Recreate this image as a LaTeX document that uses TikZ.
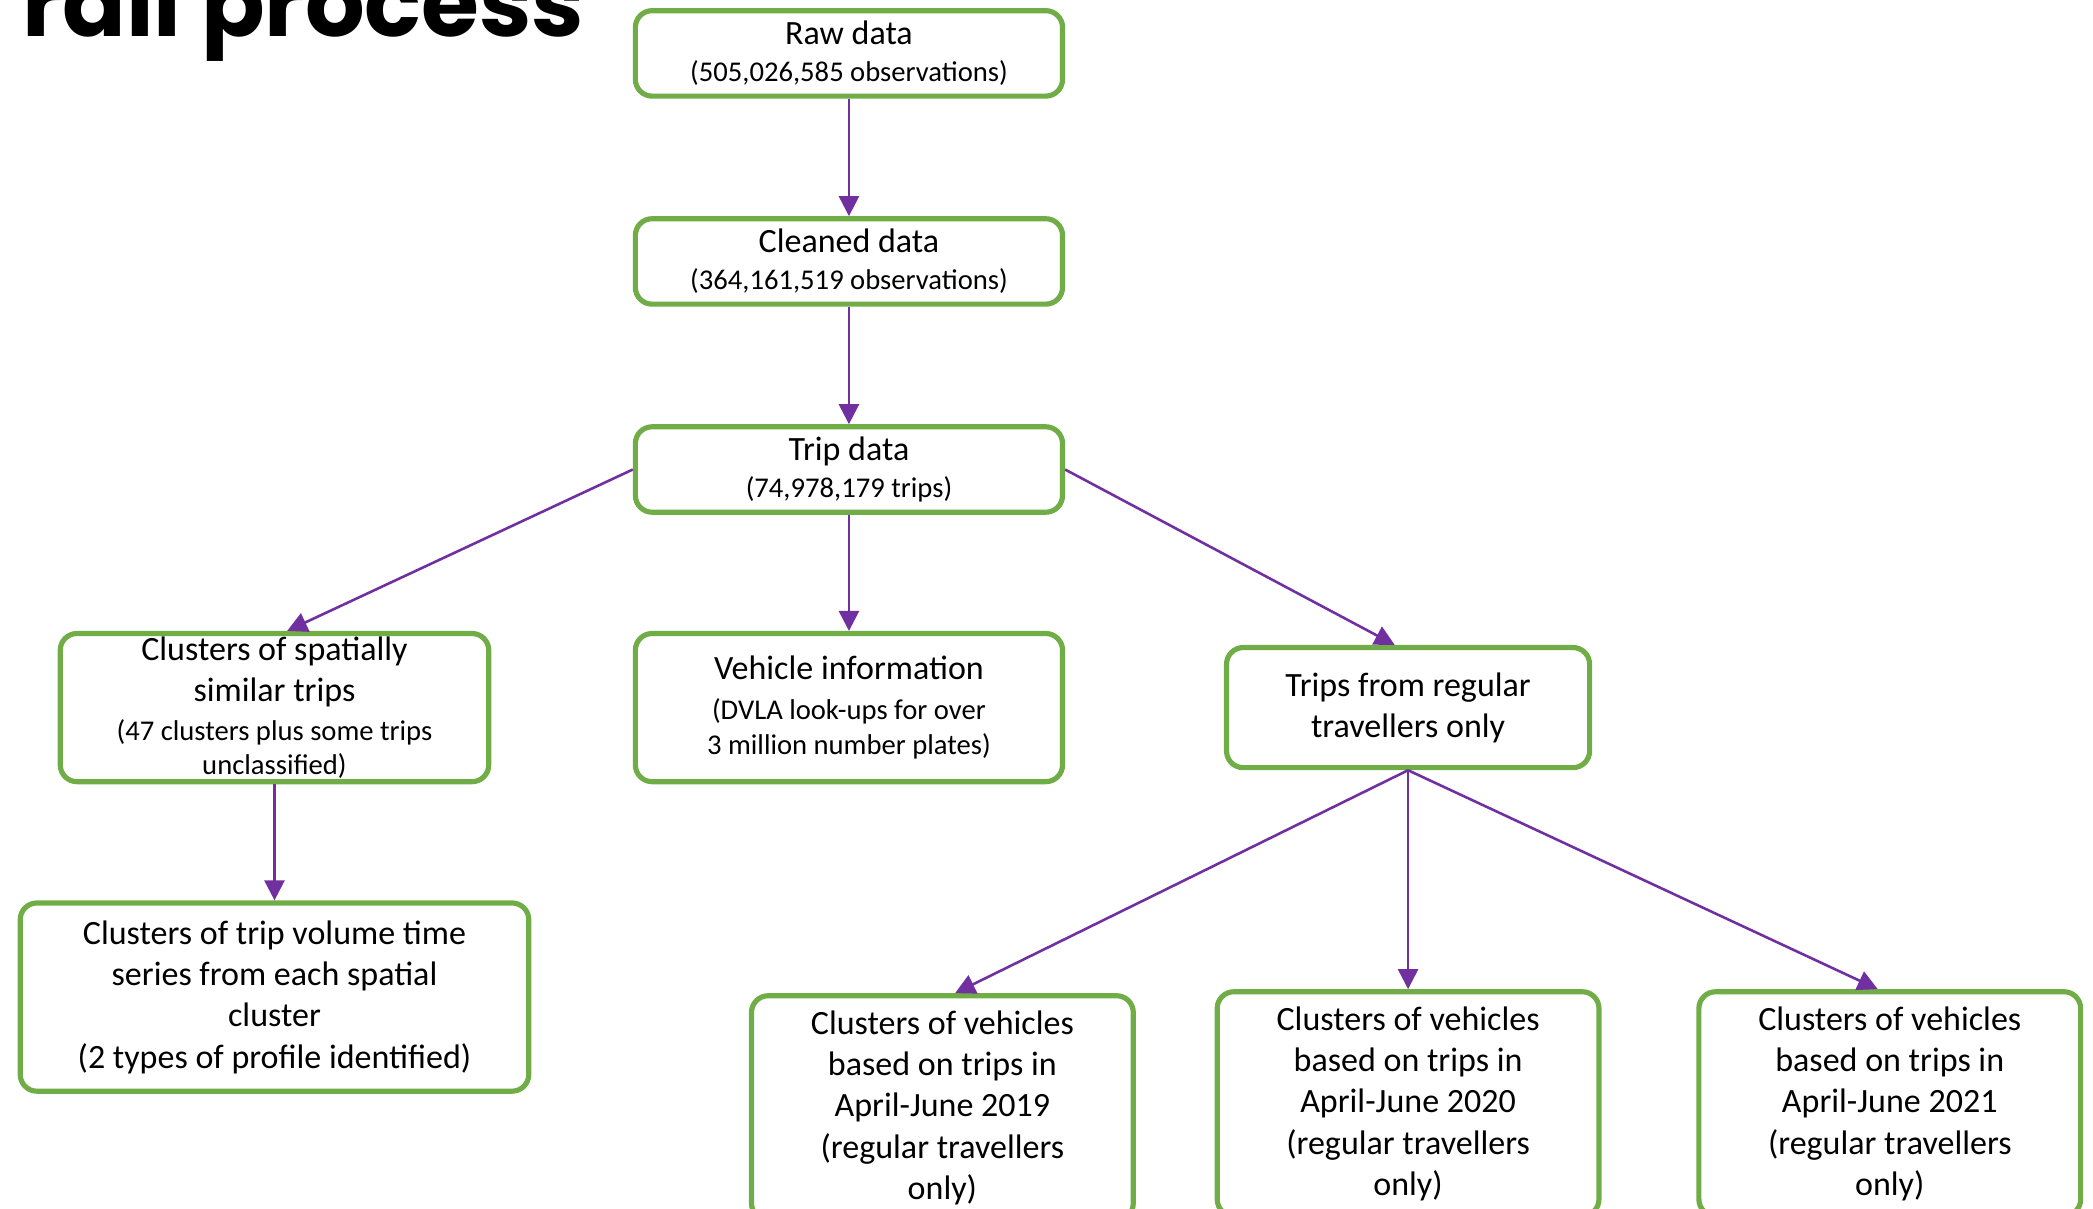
\documentclass[tikz,border=0pt]{standalone}
\usepackage{fontspec}
\setmainfont{Carlito}
\newfontfamily\titlefont{Poppins}
\usepackage{tikz}
\usetikzlibrary{positioning,arrows.meta}
\definecolor{boxgreen}{HTML}{70AD47}
\definecolor{flow}{HTML}{7030A0}
\newcommand{\detail}[1]{{\fontsize{12.2}{14.8}\selectfont #1}}

\begin{document}
\begin{tikzpicture}[
  stage/.style = {
    draw = boxgreen,
    line width = 2.2pt,
    rounded corners = 0.25cm,
    fill = white,
    align = center,
    text = black,
    font = \fontsize{14.5}{17.6}\selectfont,
    inner sep = 0.1cm,
  },
  topstage/.style = {
    stage,
    minimum width = 6.4cm,
    minimum height = 1.28cm,
  },
  periodstage/.style = {
    stage,
    minimum width = 5.72cm,
    minimum height = 3.36cm,
  },
  flowline/.style = {
    color = flow,
    line width = 1.1pt,
  },
  >={Triangle[length=0.3cm,width=0.3cm]},
]

  \useasboundingbox (0,0) rectangle (31.36,-18.1);

  % heading, cut off by the page edge
  \node[font=\titlefont\bfseries\fontsize{40}{48}\selectfont,anchor=base east,inner sep=0pt] (title) at (8.76,-0.54) {rall process};

  \node[topstage] (raw) at (12.72,-0.80) {Raw data\\[-1.7pt] \detail{(505,026,585 observations)}};
  \node[topstage] (cleaned) [below=1.76cm of raw] {Cleaned data\\[-1.7pt] \detail{(364,161,519 observations)}};
  \node[topstage] (trip) [below=1.76cm of cleaned] {Trip data\\[-1.7pt] \detail{(74,978,179 trips)}};

  \node[stage,minimum width=6.4cm,minimum height=2.22cm] (vehicle) [below=1.74cm of trip]
    {Vehicle information\\[-0.6pt] \detail{(DVLA look-ups for over}\\[-2.8pt] \detail{3 million number plates)}};
  \node[stage,minimum width=6.42cm,minimum height=2.22cm,inner ysep=0pt] (spatial) [left=2.12cm of vehicle]
    {Clusters of spatially\\ similar trips\\[-1pt] \detail{(47 clusters plus some trips}\\[-3.4pt] \detail{unclassified)}};
  \node[stage,minimum width=5.44cm,minimum height=1.8cm] (regular) [right=2.38cm of vehicle]
    {Trips from regular\\ travellers only};

  \node[stage,minimum width=7.62cm,minimum height=2.82cm] (volume) [below=1.74cm of spatial]
    {Clusters of trip volume time\\ series from each spatial\\ cluster\\ (2 types of profile identified)};

  \node[periodstage] (p2020) [below=3.28cm of regular]
    {Clusters of vehicles\\ based on trips in\\ April-June 2020\\ (regular travellers\\ only)};
  \node[periodstage] (p2019) [left=1.18cm of p2020,yshift=-0.06cm]
    {Clusters of vehicles\\ based on trips in\\ April-June 2019\\ (regular travellers\\ only)};
  \node[periodstage] (p2021) [right=1.42cm of p2020]
    {Clusters of vehicles\\ based on trips in\\ April-June 2021\\ (regular travellers\\ only)};

  \path[->,flowline] (raw) edge (cleaned);
  \path[->,flowline] (cleaned) edge (trip);
  \path[->,flowline] (trip) edge (vehicle);
  \path[->,flowline] (trip.west) edge ([xshift=0.19cm]spatial.north);
  \path[->,flowline] (trip.east) edge ([xshift=-0.2cm]regular.north);
  \path[->,flowline] (spatial) edge (volume);

  \path[->,flowline] (regular.south) edge ([xshift=0.19cm]p2019.north);
  \path[->,flowline] (regular.south) edge (p2020.north);
  \path[->,flowline] (regular.south) edge ([xshift=-0.18cm]p2021.north);

\end{tikzpicture}
\end{document}
